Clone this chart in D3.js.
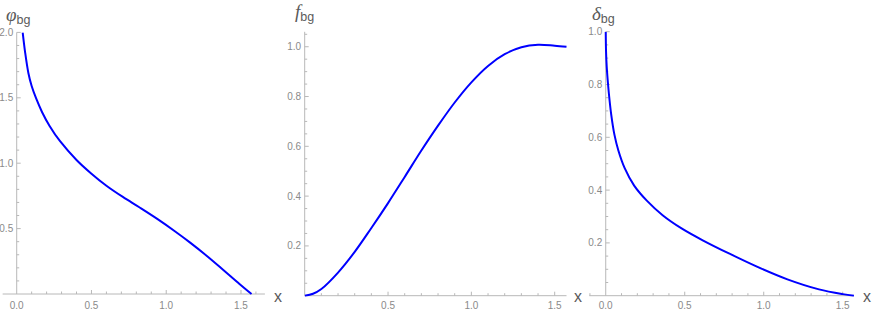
<!DOCTYPE html>
<html>
<head>
<meta charset="utf-8">
<script src="https://cdn.jsdelivr.net/npm/d3@7/dist/d3.min.js"></script>
<style>
    body { margin: 0; background: #fff; }
    svg { display: block; }
</style>
</head>
<body>
<div id="chart"></div>
<script>
// values
var phiX = [0.04, 0.056, 0.078, 0.10, 0.13, 0.17, 0.22, 0.29, 0.40, 0.50, 0.60, 0.71, 0.82, 0.94, 1.06, 1.16, 1.27, 1.38, 1.49, 1.5708];
var phiY = [2.0, 1.85, 1.69, 1.59, 1.495, 1.39, 1.285, 1.168, 1.025, 0.92, 0.828, 0.742, 0.663, 0.574, 0.478, 0.393, 0.293, 0.186, 0.077, 0];

var fX = [0, 0.05, 0.1, 0.2, 0.3, 0.4, 0.5, 0.6, 0.7, 0.8, 0.9, 1.0, 1.1, 1.2, 1.3, 1.4, 1.5, 1.5708];
var fY = [0, 0.008, 0.027, 0.093, 0.176, 0.272, 0.372, 0.477, 0.583, 0.683, 0.776, 0.857, 0.923, 0.970, 0.998, 1.008, 1.004, 1.0];

var deltaX = [0, 0.002, 0.006, 0.012, 0.02, 0.035, 0.055, 0.08, 0.12, 0.18, 0.26, 0.36, 0.48, 0.62, 0.78, 0.95, 1.15, 1.35, 1.5, 1.5708];
var deltaY = [1.0, 0.925, 0.87, 0.82, 0.765, 0.685, 0.61, 0.55, 0.483, 0.417, 0.36, 0.305, 0.255, 0.208, 0.16, 0.112, 0.062, 0.024, 0.006, 0];

var phiXTicks = [0, 0.5, 1.0, 1.5];
var phiYTicks = [0.5, 1.0, 1.5, 2.0];
var fXTicks = [0.5, 1.0, 1.5];
var fYTicks = [0.2, 0.4, 0.6, 0.8, 1.0];
var deltaXTicks = [0, 0.5, 1.0, 1.5];
var deltaYTicks = [0.2, 0.4, 0.6, 0.8, 1.0];

var WIDTH = 872, HEIGHT = 314;
var AXIS_COLOR = "#b8b8b8";
var LABEL_COLOR = "#8a8a8a";
var TITLE_COLOR = "#5a5a5a";
var CURVE_COLOR = "#0000ff";

var panels = [
    {
        xs: phiX, ys: phiY, xTicks: phiXTicks, yTicks: phiYTicks,
        xDomain: [-0.094, 1.66], xRange: [2.65, 264.9],
        yDomain: [0, 2.0], yRange: [294, 32.4],
        xMinor: 0.1, yMinor: 0.1,
        sym: "\u03C6", titleX: 6, titleY: 21, xLabelX: 274, xLabelY: 302
    },
    {
        xs: fX, ys: fY, xTicks: fXTicks, yTicks: fYTicks,
        xDomain: [0, 1.5708], xRange: [304.7, 566.5],
        yDomain: [0, 1.06], yRange: [295.7, 31.8],
        xMinor: 0.1, yMinor: 0.05,
        sym: "f", titleX: 295, titleY: 18, xLabelX: 574, xLabelY: 302
    },
    {
        xs: deltaX, ys: deltaY, xTicks: deltaXTicks, yTicks: deltaYTicks,
        xDomain: [-0.104, 1.5708], xRange: [589.3, 853.9],
        yDomain: [0, 1.0], yRange: [295.7, 31.7],
        xMinor: 0.1, yMinor: 0.05,
        sym: "\u03B4", titleX: 592, titleY: 20, xLabelX: 863, xLabelY: 302
    }
];

var svg = d3.select("#chart")
    .append("svg")
    .attr("width", WIDTH)
    .attr("height", HEIGHT);

panels.forEach(function (p, k) {
    var x = d3.scaleLinear().domain(p.xDomain).range(p.xRange);
    var y = d3.scaleLinear().domain(p.yDomain).range(p.yRange);
    var x0 = x(0), y0 = y(0);
    var g = svg.append("g");

    // axis lines
    g.append("line")
        .attr("x1", p.xRange[0]).attr("x2", p.xRange[1])
        .attr("y1", y0).attr("y2", y0)
        .attr("stroke", AXIS_COLOR).attr("stroke-width", 1);
    g.append("line")
        .attr("x1", x0).attr("x2", x0)
        .attr("y1", p.yRange[0]).attr("y2", p.yRange[1])
        .attr("stroke", AXIS_COLOR).attr("stroke-width", 1);

    // minor + major ticks
    var eps = 1e-6;
    var xMinorVals = d3.range(Math.ceil(p.xDomain[0] / p.xMinor - eps), Math.floor(p.xDomain[1] / p.xMinor + eps) + 1)
        .map(function (i) { return i * p.xMinor; })
        .filter(function (v) { return Math.abs(v) > eps; });
    var yMinorVals = d3.range(1, Math.floor(p.yDomain[1] / p.yMinor + eps) + 1)
        .map(function (i) { return i * p.yMinor; });

    function isMajor(v, list) {
        return list.some(function (t) { return Math.abs(t - v) < 1e-6; });
    }

    g.selectAll(".xt").data(xMinorVals).enter().append("line")
        .attr("x1", function (d) { return x(d); })
        .attr("x2", function (d) { return x(d); })
        .attr("y1", y0)
        .attr("y2", function (d) { return y0 - (isMajor(d, p.xTicks) ? 4 : 2.5); })
        .attr("stroke", AXIS_COLOR).attr("stroke-width", 1);

    g.selectAll(".yt").data(yMinorVals).enter().append("line")
        .attr("y1", function (d) { return y(d); })
        .attr("y2", function (d) { return y(d); })
        .attr("x1", x0)
        .attr("x2", function (d) { return x0 + (isMajor(d, p.yTicks) ? 4 : 2.5); })
        .attr("stroke", AXIS_COLOR).attr("stroke-width", 1);

    // tick labels
    g.selectAll(".xl").data(p.xTicks).enter().append("text")
        .attr("x", function (d) { return x(d); })
        .attr("y", 308.5)
        .attr("text-anchor", "middle")
        .attr("font-family", "Liberation Sans, Arial, sans-serif")
        .attr("font-size", 10)
        .attr("fill", LABEL_COLOR)
        .text(function (d) { return d3.format(".1f")(d); });

    g.selectAll(".yl").data(p.yTicks).enter().append("text")
        .attr("x", x0 - 3.5)
        .attr("y", function (d) { return y(d); })
        .attr("dy", "0.35em")
        .attr("text-anchor", "end")
        .attr("font-family", "Liberation Sans, Arial, sans-serif")
        .attr("font-size", 10)
        .attr("fill", LABEL_COLOR)
        .text(function (d) { return d3.format(".1f")(d); });

    // curve, clipped to the plot range
    var clipId = "clip" + k;
    svg.append("clipPath").attr("id", clipId)
        .append("rect")
        .attr("x", p.xRange[0]).attr("y", p.yRange[1])
        .attr("width", p.xRange[1] - p.xRange[0] + 2)
        .attr("height", p.yRange[0] - p.yRange[1] + 1);

    var pts = p.xs.map(function (v, i) { return [v, p.ys[i]]; });
    var line = d3.line()
        .x(function (d) { return x(d[0]); })
        .y(function (d) { return y(d[1]); })
        .curve(d3.curveCatmullRom.alpha(0.5));

    g.append("path")
        .datum(pts)
        .attr("clip-path", "url(#" + clipId + ")")
        .attr("d", line)
        .attr("fill", "none")
        .attr("stroke", CURVE_COLOR)
        .attr("stroke-width", 2);

    // axis titles
    var title = g.append("text")
        .attr("x", p.titleX)
        .attr("y", p.titleY)
        .attr("fill", TITLE_COLOR);
    title.append("tspan")
        .attr("font-family", "Liberation Serif, Times New Roman, serif")
        .attr("font-style", "italic")
        .attr("font-size", 19)
        .text(p.sym);
    title.append("tspan")
        .attr("font-family", "Liberation Sans, Arial, sans-serif")
        .attr("font-size", 12.5)
        .attr("dy", 2.5)
        .text("bg");

    g.append("text")
        .attr("x", p.xLabelX)
        .attr("y", p.xLabelY)
        .attr("font-family", "Liberation Sans, Arial, sans-serif")
        .attr("font-size", 16)
        .attr("fill", TITLE_COLOR)
        .text("x");
});
</script>
</body>
</html>
